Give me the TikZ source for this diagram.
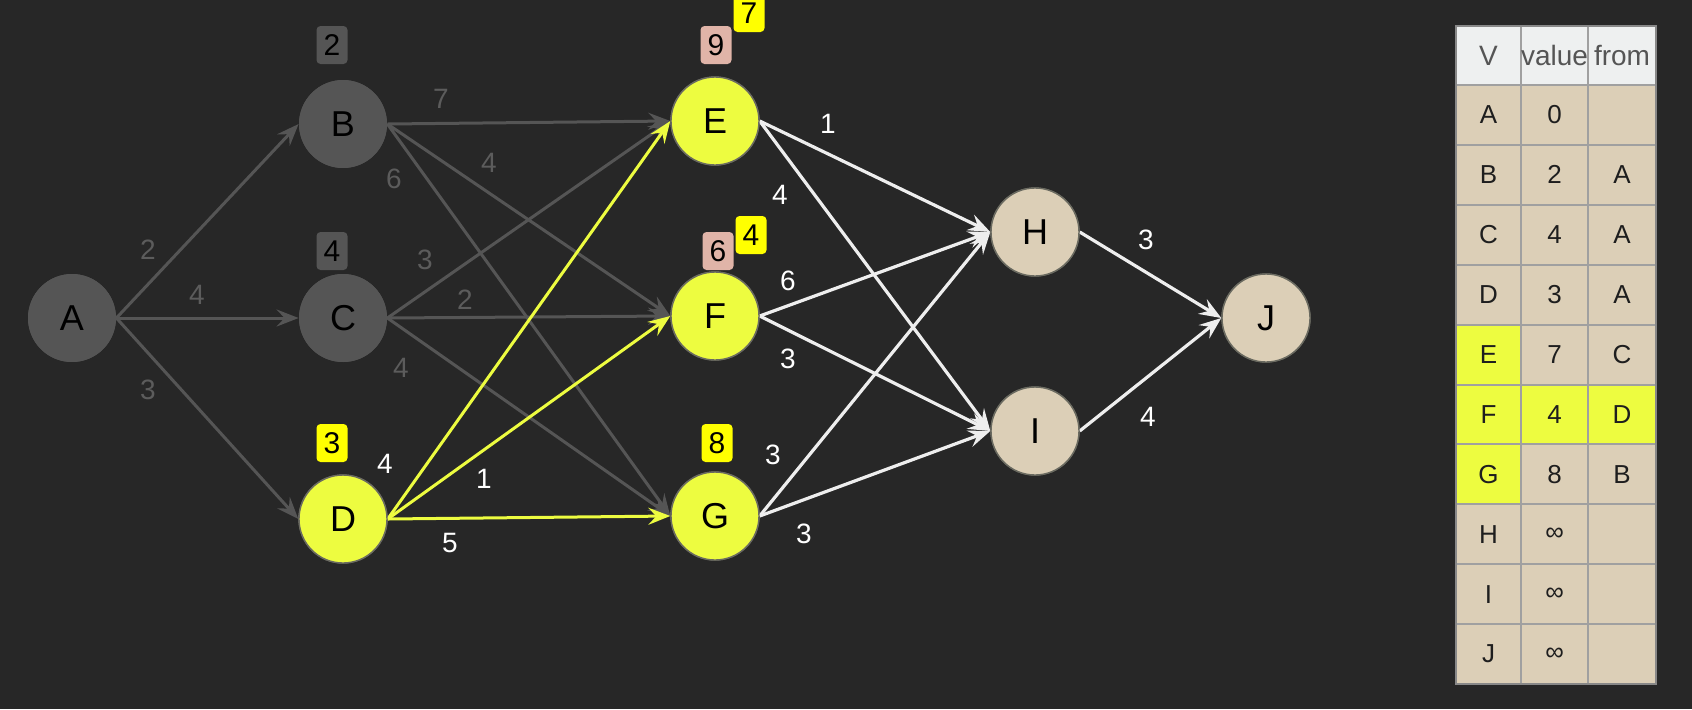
\documentclass[tikz,border=0pt]{standalone}
\usepackage{fontspec}
\setmainfont{Liberation Sans}
\usetikzlibrary{arrows.meta}
\definecolor{bg}{HTML}{272727}
\definecolor{gnode}{HTML}{555555}
\definecolor{glab}{HTML}{5C5C5C}
\definecolor{ynode}{HTML}{EDFC40}
\definecolor{ybadge}{HTML}{FFFF00}
\definecolor{pbadge}{HTML}{E0B4A8}
\definecolor{beige}{HTML}{DCCFB7}
\definecolor{wline}{HTML}{EEEEEE}
\definecolor{outl}{HTML}{6A6A60}
\definecolor{thead}{HTML}{EEF0F0}
\definecolor{tgrid}{HTML}{A0A0A0}
\definecolor{ttext}{HTML}{1E1E1E}
\tikzset{
  vtx/.style={circle, minimum size=44pt, inner sep=0pt, font=\fontsize{18}{21}\selectfont, text=black},
  grayv/.style={vtx, fill=gnode},
  yelv/.style={vtx, fill=ynode, draw=outl, line width=0.7pt},
  beigev/.style={vtx, fill=beige, draw=outl, line width=0.7pt},
  badge/.style={rounded corners=2pt, minimum width=15.5pt, minimum height=19pt, inner sep=0pt, font=\fontsize{15}{18}\selectfont, text=black},
  gbadge/.style={badge, fill=gnode},
  ybadgest/.style={badge, fill=ybadge},
  pbadgest/.style={badge, fill=pbadge},
  elab/.style={font=\fontsize{14}{16}\selectfont, inner sep=0pt},
  glabel/.style={elab, text=glab},
  wlabel/.style={elab, text=white},
  tip/.style={-{Stealth[length=11pt,width=8.5pt,inset=4pt]}},
  gedge/.style={draw=gnode, line width=1.5pt, tip},
  wedge/.style={draw=wline, line width=1.6pt, tip},
  yedge/.style={draw=ynode, line width=1.5pt, tip},
  tcell/.style={font=\fontsize{13}{15}\selectfont, text=ttext, inner sep=0pt},
  thcell/.style={font=\fontsize{14}{16}\selectfont, text=gnode, inner sep=0pt},
}
\begin{document}
\begin{tikzpicture}[x=0.5pt,y=-0.5pt]
\fill[bg] (0,0) rectangle (1692,709);
\useasboundingbox (0,0) rectangle (1692,709);

% nodes (named, positions)
\node[grayv] (A) at (72,318) {A};
\node[grayv] (B) at (343,124) {B};
\node[grayv] (C) at (343,318) {C};
\node[yelv] (D) at (343,519) {D};
\node[yelv] (E) at (715,121) {E};
\node[yelv] (F) at (715,316) {F};
\node[yelv] (G) at (715,516) {G};
\node[beigev] (H) at (1035,232) {H};
\node[beigev] (I) at (1035,431) {I};
\node[beigev] (J) at (1266,318) {J};

% edges
\path[gedge] (A.east) -- (B.west);
\path[gedge] (A.east) -- (C.west);
\path[gedge] (A.east) -- (D.west);
\path[gedge] (B.east) -- (E.west);
\path[gedge] (B.east) -- (F.west);
\path[gedge] (B.east) -- (G.west);
\path[gedge] (C.east) -- (E.west);
\path[gedge] (C.east) -- (F.west);
\path[gedge] (C.east) -- (G.west);
\path[wedge] (E.east) -- (H.west);
\path[wedge] (E.east) -- (I.west);
\path[wedge] (F.east) -- (H.west);
\path[wedge] (F.east) -- (I.west);
\path[wedge] (G.east) -- (H.west);
\path[wedge] (G.east) -- (I.west);
\path[wedge] (H.east) -- (J.west);
\path[wedge] (I.east) -- (J.west);
\path[yedge] (D.east) -- (E.west);
\path[yedge] (D.east) -- (F.west);
\path[yedge] (D.east) -- (G.west);

% redraw nodes on top of edges
\node[grayv] at (A) {A};
\node[grayv] at (B) {B};
\node[grayv] at (C) {C};
\node[yelv] at (D) {D};
\node[yelv] at (E) {E};
\node[yelv] at (F) {F};
\node[yelv] at (G) {G};
\node[beigev] at (H) {H};
\node[beigev] at (I) {I};
\node[beigev] at (J) {J};

% badges
\node[gbadge] (bB) at (332,45) {2};
\node[gbadge] (bC) at (332,251) {4};
\node[ybadgest] (bD) at (332,443) {3};
\node[ybadgest] (bG) at (717,443) {8};
\node[pbadgest] (bE) at (716,45) {9};
\node[ybadgest] (bE2) at (749,13) {7};
\node[pbadgest] (bF) at (718,251) {6};
\node[ybadgest] (bF2) at (751,235) {4};

% edge labels
\node[glabel] (lAB) at (148,250) {2};
\node[glabel] (lAC) at (197,295) {4};
\node[glabel] (lAD) at (148,390) {3};
\node[glabel] (lBE) at (441,99) {7};
\node[glabel] (lBF) at (489,163) {4};
\node[glabel] (lBG) at (394,179) {6};
\node[glabel] (lCE) at (425,260) {3};
\node[glabel] (lCF) at (465,300) {2};
\node[glabel] (lCG) at (401,368) {4};
\node[wlabel] (lDE) at (385,464) {4};
\node[wlabel] (lDF) at (484,479) {1};
\node[wlabel] (lDG) at (450,543) {5};
\node[wlabel] (lEH) at (828,124) {1};
\node[wlabel] (lEI) at (780,195) {4};
\node[wlabel] (lFH) at (788,281) {6};
\node[wlabel] (lFI) at (788,359) {3};
\node[wlabel] (lGH) at (773,455) {3};
\node[wlabel] (lGI) at (804,534) {3};
\node[wlabel] (lHJ) at (1146,240) {3};
\node[wlabel] (lIJ) at (1148,417) {4};

% table
\def\xa{1456}\def\xb{1521}\def\xc{1588}\def\xd{1656}
\fill[thead] (\xa,26) rectangle (\xd,85);
\fill[beige] (\xa,85) rectangle (\xd,684);
\fill[ynode] (\xa,325) rectangle (\xb,385);
\fill[ynode] (\xa,385) rectangle (\xd,445);
\fill[ynode] (\xa,445) rectangle (\xb,505);
\foreach \k in {0,...,9} {
  \draw[tgrid, line width=1pt] (\xa,{85+59.9*\k}) -- (\xd,{85+59.9*\k});
}
\draw[tgrid, line width=1pt] (\xb,26) -- (\xb,684);
\draw[tgrid, line width=1pt] (\xc,26) -- (\xc,684);
\draw[tgrid!85!black, line width=1pt] (\xa,26) rectangle (\xd,684);

\node[thcell] (hV) at (1488.5,55.5) {V};
\node[thcell] (hval) at (1554.5,55.5) {value};
\node[thcell] (hfrom) at (1622,55.5) {from};
\foreach \v/\val/\fr [count=\i from 0] in {A/0/, B/2/A, C/4/A, D/3/A, E/7/C, F/4/D, G/8/B, H/∞/, I/∞/, J/∞/} {
  \node[tcell] (tv\i) at (1488.5,{85+59.9*\i+30}) {\v};
  \node[tcell] (tval\i) at (1554.5,{85+59.9*\i+30}) {\val};
  \node[tcell] (tfr\i) at (1622,{85+59.9*\i+30}) {\fr};
}
\end{tikzpicture}
\end{document}
